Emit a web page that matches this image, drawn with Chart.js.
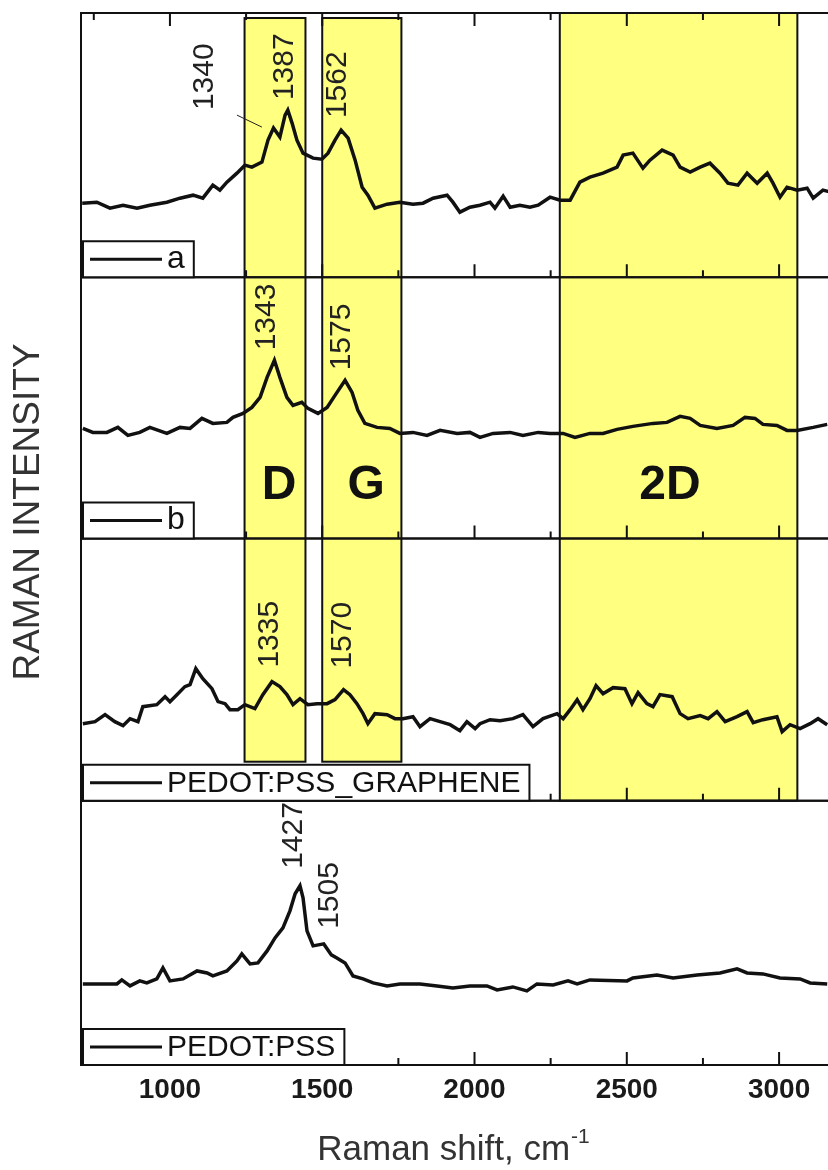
<!DOCTYPE html>
<html>
<head>
<meta charset="utf-8">
<title>Raman spectra</title>
<script src="https://cdn.jsdelivr.net/npm/chart.js@4.4.1/dist/chart.umd.min.js"></script>
<style>
  html, body { margin: 0; padding: 0; background: #fff; overflow: hidden; }
  canvas { display: block; }
</style>
</head>
<body>
<canvas id="ramanChart" width="860" height="1170"></canvas>
<script>
// spectrum a
const shiftA = [712, 760, 803, 846, 892, 934, 990, 1033, 1076, 1108, 1141, 1164, 1187, 1220, 1246, 1269, 1302, 1322, 1340, 1361,
  1378, 1387, 1401, 1417, 1437, 1470, 1499, 1519, 1542, 1562, 1585, 1608, 1631, 1650, 1673, 1713, 1755, 1798, 1831, 1864,
  1910, 1929, 1952, 1985, 2018, 2051, 2067, 2094, 2117, 2149, 2182, 2209, 2248, 2281, 2314, 2346, 2379, 2422, 2468, 2488,
  2520, 2553, 2576, 2616, 2652, 2675, 2708, 2741, 2773, 2806, 2832, 2865, 2895, 2928, 2961, 2980, 3003, 3026, 3059, 3092,
  3112, 3144, 3170];
const intensityA = [74, 75, 69, 72, 69, 72, 75, 79, 82, 79, 92, 87, 95, 104, 112, 110, 115, 137, 149, 140,
  162, 167, 154, 137, 124, 119, 118, 124, 137, 147, 139, 117, 90, 82, 69, 73, 75, 73, 74, 79,
  82, 75, 65, 70, 72, 75, 69, 81, 70, 72, 70, 72, 80, 77, 77, 95, 100, 104, 110, 122,
  124, 109, 117, 127, 122, 110, 105, 110, 114, 104, 94, 92, 104, 94, 104, 94, 80, 90, 87, 89,
  79, 87, 85];

// spectrum b
const shiftB = [714, 747, 793, 829, 862, 901, 934, 990, 1033, 1066, 1105, 1141, 1187, 1207, 1240, 1269, 1296, 1319, 1343, 1361,
  1384, 1404, 1433, 1453, 1486, 1516, 1542, 1575, 1598, 1617, 1640, 1680, 1722, 1755, 1798, 1844, 1887, 1943, 1985, 2018,
  2061, 2117, 2159, 2209, 2248, 2291, 2330, 2379, 2422, 2468, 2520, 2586, 2632, 2675, 2708, 2741, 2796, 2849, 2888, 2921,
  2947, 2993, 3026, 3059, 3112, 3158];
const intensityB = [110, 106, 106, 111, 103, 106, 111, 105, 111, 110, 120, 115, 116, 121, 125, 131, 141, 161, 178, 161,
  141, 133, 136, 130, 125, 131, 143, 158, 146, 128, 115, 111, 110, 105, 106, 103, 108, 105, 106, 101,
  105, 106, 103, 106, 105, 105, 101, 105, 105, 109, 112, 115, 116, 122, 120, 113, 110, 113, 121, 120,
  114, 113, 108, 108, 111, 114];

// PEDOT:PSS_GRAPHENE
const shiftC = [714, 754, 787, 819, 846, 869, 895, 911, 957, 984, 1000, 1023, 1049, 1066, 1085, 1108, 1138, 1158, 1181, 1197,
  1223, 1246, 1279, 1305, 1335, 1361, 1384, 1404, 1427, 1453, 1483, 1516, 1542, 1570, 1591, 1614, 1634, 1650, 1673, 1713,
  1739, 1765, 1798, 1821, 1854, 1887, 1920, 1952, 1975, 2002, 2018, 2051, 2084, 2126, 2159, 2192, 2225, 2271, 2291, 2314,
  2337, 2356, 2379, 2399, 2422, 2455, 2494, 2517, 2537, 2566, 2586, 2609, 2649, 2675, 2701, 2741, 2767, 2796, 2823, 2862,
  2895, 2915, 2947, 2993, 3010, 3036, 3069, 3102, 3128, 3158];
const intensityC = [77, 79, 86, 79, 75, 82, 79, 94, 96, 104, 99, 106, 114, 116, 132, 122, 112, 99, 97, 91,
  91, 96, 92, 106, 119, 114, 106, 96, 102, 96, 97, 97, 101, 111, 106, 97, 87, 77, 87, 86,
  82, 82, 84, 74, 82, 79, 76, 70, 79, 72, 77, 81, 80, 82, 86, 74, 82, 87, 82, 91,
  101, 91, 102, 115, 107, 113, 112, 97, 108, 97, 94, 106, 104, 87, 82, 85, 82, 89, 79, 84,
  89, 78, 81, 84, 69, 76, 72, 77, 82, 76];

// PEDOT:PSS
const shiftD = [714, 826, 842, 869, 901, 924, 957, 977, 1000, 1043, 1089, 1122, 1141, 1187, 1220, 1236, 1263, 1289, 1319, 1345,
  1371, 1394, 1411, 1427, 1437, 1450, 1470, 1505, 1530, 1548, 1575, 1601, 1634, 1667, 1713, 1755, 1821, 1877, 1929, 1985,
  2041, 2074, 2126, 2172, 2205, 2258, 2307, 2337, 2379, 2501, 2520, 2599, 2652, 2731, 2806, 2862, 2895, 2947, 3003, 3069,
  3102, 3158];
const intensityD = [81, 81, 85, 79, 84, 82, 86, 97, 84, 86, 94, 92, 89, 94, 104, 111, 101, 102, 114, 127,
  137, 154, 171, 179, 167, 134, 119, 121, 110, 107, 102, 89, 86, 82, 79, 81, 81, 79, 77, 79,
  79, 75, 78, 74, 81, 80, 84, 81, 85, 84, 87, 90, 87, 90, 92, 96, 92, 91, 87, 86,
  82, 81];

const legendNames = ['a', 'b', 'PEDOT:PSS_GRAPHENE', 'PEDOT:PSS'];
const xTickLabels = [1000, 1500, 2000, 2500, 3000];
const xTickMarks = [750, 1000, 1250, 1500, 1750, 2000, 2250, 2500, 2750, 3000];

// D, G and 2D band limits (cm-1)
const bandNames = ['D', 'G', '2D'];
const bandFrom = [1245, 1500, 2280];
const bandTo = [1445, 1760, 3060];

const peakLabels = ['1340', '1387', '1562', '1343', '1575', '1335', '1570', '1427', '1505'];

// ---- layout / style ----
const FONT = '"Liberation Sans", Arial, sans-serif';
const panelIds = ['yA', 'yB', 'yC', 'yD'];          // top to bottom
const panelHeights = [264, 261, 262, 264];
const legendFontSize = [32, 32, 30, 30];

// where each band box starts/ends vertically: [panel, value]
const bandTop = [['yA', 259], ['yA', 259], ['yA', 264]];
const bandBottom = [['yC', 39], ['yC', 39], ['yC', 0]];
const bandLetterAt = [[1358, 53], [1644, 53], [2642, 53]];   // all in panel b

// bottom end of each rotated peak label: [panel, shift, value]
const peakLabelAt = [
  ['yA', 1115, 167], ['yA', 1378, 177], ['yA', 1552, 159],
  ['yB', 1319, 188], ['yB', 1565, 168],
  ['yC', 1329, 133], ['yC', 1568, 132],
  ['yD', 1407, 196], ['yD', 1525, 136]
];

function toPoints(xs, ys) {
  return xs.map((x, i) => ({ x: x, y: ys[i] }));
}

function panelAxis(h) {
  return {
    type: 'linear',
    position: 'left',
    stack: 'panels',
    stackWeight: h,
    min: 0,
    max: h,
    offset: false,
    grid: { display: false },
    border: { display: false },
    ticks: { display: false }
  };
}

const decorPlugin = {
  id: 'decor',
  beforeDatasetsDraw(chart) {
    const { ctx, scales } = chart;
    const x = scales.x;
    ctx.save();
    bandNames.forEach((name, i) => {
      const x0 = x.getPixelForValue(bandFrom[i]);
      const x1 = x.getPixelForValue(bandTo[i]);
      const y0 = scales[bandTop[i][0]].getPixelForValue(bandTop[i][1]);
      const y1 = scales[bandBottom[i][0]].getPixelForValue(bandBottom[i][1]);
      ctx.fillStyle = '#ffff80';
      ctx.fillRect(x0, y0, x1 - x0, y1 - y0);
      ctx.strokeStyle = '#111';
      ctx.lineWidth = 2;
      ctx.strokeRect(x0, y0, x1 - x0, y1 - y0);

      // band letter
      ctx.fillStyle = '#111';
      ctx.font = 'bold 48px ' + FONT;
      ctx.textAlign = 'center';
      ctx.textBaseline = 'middle';
      ctx.fillText(name, x.getPixelForValue(bandLetterAt[i][0]), scales.yB.getPixelForValue(bandLetterAt[i][1]));
    });
    ctx.restore();
  },
  afterDatasetsDraw(chart) {
    const { ctx, scales, chartArea } = chart;
    const x = scales.x;
    ctx.save();

    // panel frames and inward ticks
    ctx.strokeStyle = '#111';
    ctx.lineWidth = 2;
    panelIds.forEach((id, p) => {
      const s = scales[id];
      ctx.strokeRect(chartArea.left, s.top, chartArea.right - chartArea.left, s.bottom - s.top);
      xTickMarks.forEach(v => {
        const px = x.getPixelForValue(v);
        const len = v % 500 === 0 ? 13 : 7;
        ctx.beginPath();
        ctx.moveTo(px, s.bottom);
        ctx.lineTo(px, s.bottom - len);
        if (p === 0) {
          ctx.moveTo(px, s.top);
          ctx.lineTo(px, s.top + len);
        }
        ctx.stroke();
      });
    });

    // legend boxes
    panelIds.forEach((id, p) => {
      const s = scales[id];
      ctx.font = legendFontSize[p] + 'px ' + FONT;
      const bx = chartArea.left + 2;
      const bw = 84 + ctx.measureText(legendNames[p]).width + 9;
      const bh = 36;
      const by = s.bottom - bh;
      ctx.fillStyle = '#fff';
      ctx.fillRect(bx, by, bw, bh);
      ctx.lineWidth = 2;
      ctx.strokeRect(bx, by, bw, bh);
      ctx.lineWidth = 3;
      ctx.beginPath();
      ctx.moveTo(bx + 7, by + bh / 2);
      ctx.lineTo(bx + 79, by + bh / 2);
      ctx.stroke();
      ctx.fillStyle = '#111';
      ctx.textAlign = 'left';
      ctx.textBaseline = 'alphabetic';
      ctx.fillText(legendNames[p], bx + 84, s.bottom - 9);
    });

    // peak positions, written upward
    ctx.fillStyle = '#222';
    ctx.font = '30px ' + FONT;
    ctx.textAlign = 'left';
    ctx.textBaseline = 'middle';
    peakLabels.forEach((txt, i) => {
      const [id, sx, sy] = peakLabelAt[i];
      ctx.save();
      ctx.translate(x.getPixelForValue(sx), scales[id].getPixelForValue(sy));
      ctx.rotate(-Math.PI / 2);
      ctx.fillText(txt, 0, 0);
      ctx.restore();
    });

    // pointer from the 1340 label to the shoulder
    ctx.strokeStyle = '#222';
    ctx.lineWidth = 1;
    ctx.beginPath();
    ctx.moveTo(x.getPixelForValue(1220), scales.yA.getPixelForValue(162));
    ctx.lineTo(x.getPixelForValue(1302), scales.yA.getPixelForValue(150));
    ctx.stroke();

    // axis titles
    ctx.fillStyle = '#333';
    ctx.font = '37px ' + FONT;
    ctx.textAlign = 'center';
    ctx.textBaseline = 'middle';
    ctx.save();
    ctx.translate(chartArea.left - 52, 512);
    ctx.rotate(-Math.PI / 2);
    ctx.fillText('RAMAN INTENSITY', 0, 0);
    ctx.restore();

    const main = 'Raman shift, cm';
    const sup = '-1';
    ctx.font = '35px ' + FONT;
    const mw = ctx.measureText(main).width;
    ctx.font = '21px ' + FONT;
    const sw = ctx.measureText(sup).width;
    const startX = chartArea.left + 372 - (mw + sw) / 2;
    ctx.textAlign = 'left';
    ctx.textBaseline = 'alphabetic';
    ctx.font = '35px ' + FONT;
    ctx.fillText(main, startX, 1160);
    ctx.font = '21px ' + FONT;
    ctx.fillText(sup, startX + mw + 1, 1143);

    ctx.restore();
  }
};

document.addEventListener('DOMContentLoaded', function () {
  const ctx = document.getElementById('ramanChart');

  const series = [
    toPoints(shiftA, intensityA),
    toPoints(shiftB, intensityB),
    toPoints(shiftC, intensityC),
    toPoints(shiftD, intensityD)
  ];

  // stacked axes: last one listed ends up on top
  const scales = {
    x: {
      type: 'linear',
      min: 708,
      max: 3200,
      afterBuildTicks: axis => { axis.ticks = xTickLabels.map(v => ({ value: v })); },
      grid: { display: false },
      border: { display: false },
      ticks: {
        autoSkip: false,
        maxRotation: 0,
        padding: 0,
        color: '#1a1a1a',
        font: { family: FONT, size: 28, weight: 'bold' },
        callback: v => String(v)
      }
    }
  };
  for (let i = panelIds.length - 1; i >= 0; i--) {
    scales[panelIds[i]] = panelAxis(panelHeights[i]);
  }

  new Chart(ctx, {
    type: 'line',
    data: {
      datasets: series.map((pts, i) => ({
        label: legendNames[i],
        data: pts,
        yAxisID: panelIds[i],
        borderColor: '#111',
        borderWidth: 3.5,
        pointRadius: 0,
        tension: 0,
        fill: false
      }))
    },
    options: {
      responsive: false,
      animation: false,
      events: [],
      layout: { padding: { left: 73, top: 13, right: 20, bottom: 63.4 } },
      plugins: {
        legend: { display: false },
        tooltip: { enabled: false }
      },
      scales: scales
    },
    plugins: [decorPlugin]
  });
});
</script>
</body>
</html>
